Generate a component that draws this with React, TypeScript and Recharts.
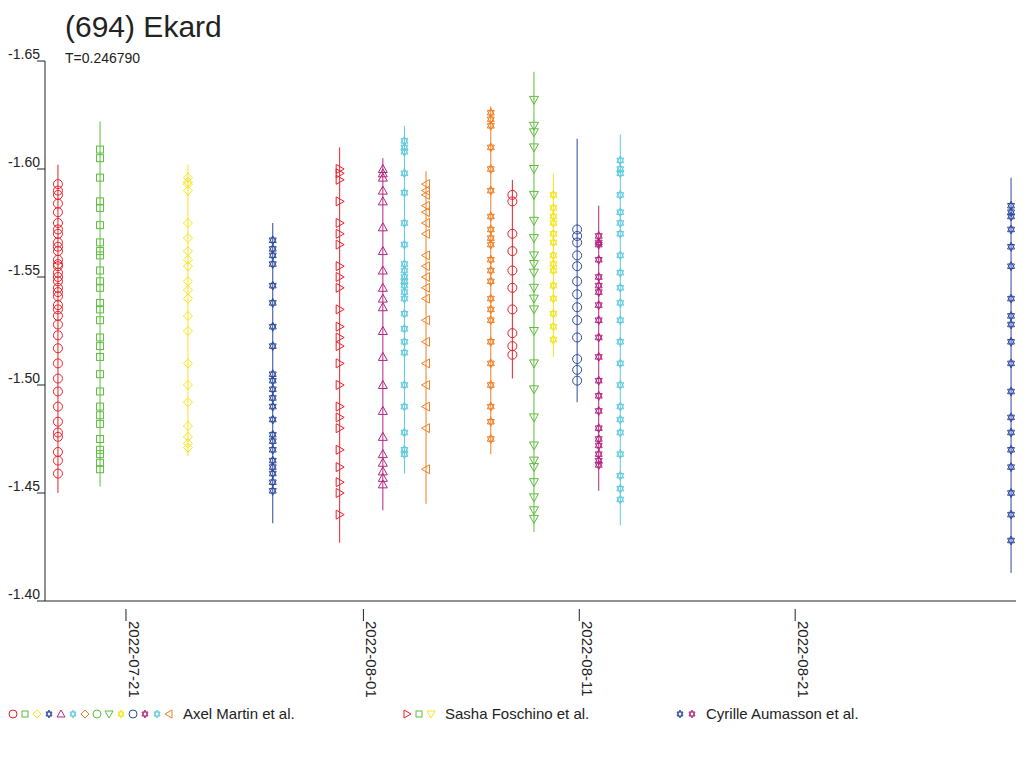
import React from 'react';
import { ScatterChart, Scatter, XAxis, YAxis } from 'recharts';

// day offsets relative to 2022-07-21
const sessionDays = [-3.15, -1.2, 2.87, 6.8, 9.9, 11.9, 12.9, 13.9, 16.9, 17.9, 18.9, 19.8, 20.9, 21.9, 22.9, 41.0];
const sessionColors = ['#e8202a', '#5cbd3c', '#f5e51e', '#2e4a9e', '#e8202a', '#b3257f', '#5fcbdf', '#f07f24', '#f07f24', '#e8202a', '#5cbd3c', '#f5e51e', '#2e4a9e', '#b3257f', '#5fcbdf', '#2e4a9e'];
const sessionShapes = ['circle', 'square', 'diamond', 'star', 'rtri', 'tri', 'star', 'ltri', 'star', 'circle', 'dtri', 'star', 'circle', 'star', 'star', 'star'];
const sessionLow = [-1.602, -1.622, -1.602, -1.575, -1.610, -1.605, -1.62, -1.599, -1.629, -1.595, -1.645, -1.598, -1.614, -1.583, -1.616, -1.596];
const sessionHigh = [-1.45, -1.453, -1.467, -1.436, -1.427, -1.442, -1.459, -1.445, -1.468, -1.503, -1.432, -1.513, -1.492, -1.451, -1.435, -1.413];
const sessionValues = [
  [-1.593, -1.59, -1.588, -1.584, -1.58, -1.575, -1.572, -1.57, -1.566, -1.564, -1.562, -1.558, -1.556, -1.555, -1.552, -1.55, -1.548, -1.545, -1.543, -1.541, -1.537, -1.535, -1.532, -1.528, -1.523, -1.517, -1.51, -1.503, -1.497, -1.49, -1.483, -1.478, -1.476, -1.469, -1.465, -1.459],
  [-1.609, -1.605, -1.596, -1.585, -1.582, -1.574, -1.566, -1.562, -1.56, -1.553, -1.548, -1.545, -1.538, -1.535, -1.53, -1.522, -1.518, -1.513, -1.505, -1.497, -1.49, -1.486, -1.482, -1.475, -1.47, -1.468, -1.464, -1.461],
  [-1.596, -1.594, -1.593, -1.59, -1.575, -1.568, -1.562, -1.558, -1.555, -1.548, -1.544, -1.54, -1.532, -1.525, -1.51, -1.5, -1.492, -1.481, -1.476, -1.473, -1.471],
  [-1.567, -1.563, -1.56, -1.556, -1.546, -1.538, -1.527, -1.518, -1.505, -1.502, -1.498, -1.494, -1.49, -1.484, -1.477, -1.474, -1.47, -1.465, -1.462, -1.459, -1.455, -1.451],
  [-1.600, -1.598, -1.595, -1.585, -1.575, -1.57, -1.565, -1.555, -1.55, -1.545, -1.535, -1.527, -1.522, -1.518, -1.51, -1.5, -1.49, -1.485, -1.48, -1.47, -1.462, -1.455, -1.45, -1.44],
  [-1.600, -1.598, -1.596, -1.59, -1.585, -1.573, -1.562, -1.553, -1.545, -1.54, -1.536, -1.525, -1.513, -1.5, -1.488, -1.476, -1.468, -1.464, -1.46, -1.457, -1.454],
  [-1.613, -1.61, -1.608, -1.598, -1.589, -1.575, -1.565, -1.556, -1.553, -1.55, -1.548, -1.546, -1.543, -1.54, -1.533, -1.526, -1.52, -1.515, -1.5, -1.49, -1.478, -1.47, -1.468],
  [-1.593, -1.59, -1.588, -1.583, -1.58, -1.575, -1.57, -1.56, -1.555, -1.55, -1.545, -1.54, -1.53, -1.52, -1.51, -1.5, -1.49, -1.48, -1.461],
  [-1.626, -1.623, -1.62, -1.61, -1.6, -1.59, -1.578, -1.572, -1.568, -1.565, -1.558, -1.553, -1.548, -1.54, -1.535, -1.53, -1.52, -1.51, -1.5, -1.49, -1.483, -1.475],
  [-1.588, -1.585, -1.57, -1.562, -1.553, -1.545, -1.535, -1.524, -1.518, -1.514],
  [-1.632, -1.62, -1.617, -1.61, -1.6, -1.588, -1.576, -1.568, -1.56, -1.556, -1.552, -1.545, -1.54, -1.535, -1.525, -1.51, -1.498, -1.485, -1.472, -1.465, -1.462, -1.455, -1.448, -1.442, -1.438],
  [-1.588, -1.582, -1.578, -1.575, -1.57, -1.566, -1.56, -1.556, -1.553, -1.546, -1.54, -1.533, -1.527, -1.521],
  [-1.572, -1.569, -1.566, -1.56, -1.555, -1.548, -1.542, -1.536, -1.53, -1.522, -1.512, -1.507, -1.502],
  [-1.569, -1.566, -1.565, -1.558, -1.55, -1.546, -1.543, -1.537, -1.53, -1.522, -1.513, -1.502, -1.495, -1.488, -1.48, -1.475, -1.472, -1.468, -1.465, -1.463],
  [-1.604, -1.6, -1.598, -1.588, -1.58, -1.575, -1.57, -1.56, -1.552, -1.545, -1.538, -1.53, -1.52, -1.51, -1.5, -1.49, -1.484, -1.478, -1.468, -1.458, -1.452, -1.447],
  [-1.583, -1.58, -1.578, -1.572, -1.564, -1.555, -1.54, -1.532, -1.528, -1.52, -1.51, -1.497, -1.485, -1.478, -1.47, -1.462, -1.45, -1.44, -1.428],
];
const yTicks = [-1.65, -1.6, -1.55, -1.5, -1.45, -1.4];
const xTicks = [0, 11, 21, 31];
const xLabels = ['2022-07-21', '2022-08-01', '2022-08-11', '2022-08-21'];

const FONT = '"Liberation Sans", Arial, sans-serif';

function marker(kind: string, color: string, cx: number, cy: number, r = 4.5) {
  const p = { fill: 'none', stroke: color, strokeWidth: 1 };
  switch (kind) {
    case 'circle': return <circle cx={cx} cy={cy} r={r} {...p} />;
    case 'square': return <rect x={cx - r + 1} y={cy - r + 1} width={2 * r - 2} height={2 * r - 2} {...p} />;
    case 'diamond': return <polygon points={`${cx},${cy - r} ${cx + r},${cy} ${cx},${cy + r} ${cx - r},${cy}`} {...p} />;
    case 'tri': return <polygon points={`${cx},${cy - r} ${cx + r},${cy + r - 1} ${cx - r},${cy + r - 1}`} {...p} />;
    case 'dtri': return <polygon points={`${cx},${cy + r} ${cx + r},${cy - r + 1} ${cx - r},${cy - r + 1}`} {...p} />;
    case 'ltri': return <polygon points={`${cx - r},${cy} ${cx + r - 1},${cy - r} ${cx + r - 1},${cy + r}`} {...p} />;
    case 'rtri': return <polygon points={`${cx + r},${cy} ${cx - r + 1},${cy - r} ${cx - r + 1},${cy + r}`} {...p} />;
    default: {
      const a = `${cx},${cy - r} ${cx + r - 1},${cy + r / 2} ${cx - r + 1},${cy + r / 2}`;
      const b = `${cx},${cy + r} ${cx + r - 1},${cy - r / 2} ${cx - r + 1},${cy - r / 2}`;
      return <g><polygon points={a} {...p} /><polygon points={b} {...p} /></g>;
    }
  }
}

const YTick = (props: any) => {
  const { x, y, payload } = props;
  return (
    <g>
      <line x1={x} x2={x + 8} y1={y} y2={y} stroke="#222" />
      <text x={x + 3} y={y - 2} textAnchor="end" fontSize={14} fill="#222" fontFamily={FONT}>{payload.value.toFixed(2)}</text>
    </g>
  );
};

const XTick = (props: any) => {
  const { x, y, payload } = props;
  const i = xTicks.indexOf(payload.value);
  return (
    <g transform={`translate(${x},${y})`}>
      <line x1={0} x2={0} y1={0} y2={12} stroke="#222" />
      <text transform="rotate(90)" x={12} y={-3} fontSize={15} fill="#222" fontFamily={FONT}>{xLabels[i]}</text>
    </g>
  );
};

const legendGroups = [
  { x: 4, label: 'Axel Martin et al.', items: [['circle', '#e8202a'], ['square', '#5cbd3c'], ['diamond', '#f5e51e'], ['star', '#2e4a9e'], ['tri', '#b3257f'], ['star', '#5fcbdf'], ['diamond', '#f07f24'], ['circle', '#5cbd3c'], ['dtri', '#5cbd3c'], ['star', '#f5e51e'], ['circle', '#2e4a9e'], ['star', '#b3257f'], ['star', '#5fcbdf'], ['ltri', '#f07f24']] },
  { x: 398, label: 'Sasha Foschino et al.', items: [['rtri', '#e8202a'], ['square', '#5cbd3c'], ['dtri', '#f5e51e']] },
  { x: 671, label: 'Cyrille Aumasson et al.', items: [['star', '#2e4a9e'], ['star', '#b3257f']] },
];

export default function App() {
  return (
    <div style={{ position: 'relative', width: 1024, height: 768, margin: -8, background: '#fff', fontFamily: FONT }}>
      <ScatterChart width={1024} height={768} margin={{ top: 61, right: 0, bottom: 0, left: 0 }} style={{ overflow: 'visible' }}>
        <XAxis type="number" dataKey="x" domain={[-3.75, 41.6]} ticks={xTicks} height={167} tick={<XTick />} tickLine={false} axisLine={{ stroke: '#222' }} allowDataOverflow />
        <YAxis type="number" dataKey="y" domain={[-1.65, -1.4]} ticks={yTicks} reversed width={45} tick={<YTick />} tickLine={false} axisLine={{ stroke: '#222' }} allowDataOverflow />
        {sessionDays.map((d, i) => (
          <Scatter key={`e${i}`} data={[{ x: d, y: sessionLow[i] }, { x: d, y: sessionHigh[i] }]} line={{ stroke: sessionColors[i], strokeWidth: 1 }} shape={() => <g />} isAnimationActive={false} />
        ))}
        {sessionDays.map((d, i) => (
          <Scatter key={`s${i}`} data={sessionValues[i].map((v) => ({ x: d, y: v }))} isAnimationActive={false}
            shape={(p: any) => marker(sessionShapes[i], sessionColors[i], p.cx, p.cy)} />
        ))}
      </ScatterChart>
      <div style={{ position: 'absolute', left: 65, top: 10, fontSize: 30, color: '#222' }}>(694) Ekard</div>
      <div style={{ position: 'absolute', left: 65, top: 50, fontSize: 14, color: '#222' }}>T=0.246790</div>
      <div style={{ position: 'absolute', left: -2, top: 640, fontSize: 7, color: '#222', transform: 'rotate(90deg)', transformOrigin: 'left top', whiteSpace: 'nowrap', marginLeft: 10 }}>©2026 OdG-RB</div>
      <div style={{ position: 'absolute', left: 8, top: 700, width: 1000, height: 30 }}>
        <svg width={1000} height={30}>
          {legendGroups.map((g, gi) => (
            <g key={gi}>
              {g.items.map((it, k) => <g key={k}>{marker(it[0], it[1], g.x + 1 + k * 12, 14, 4)}</g>)}
              <text x={g.x + 1 + g.items.length * 12 + 2} y={19} fontSize={15} fill="#222" fontFamily={FONT}>{g.label}</text>
            </g>
          ))}
        </svg>
      </div>
    </div>
  );
}
